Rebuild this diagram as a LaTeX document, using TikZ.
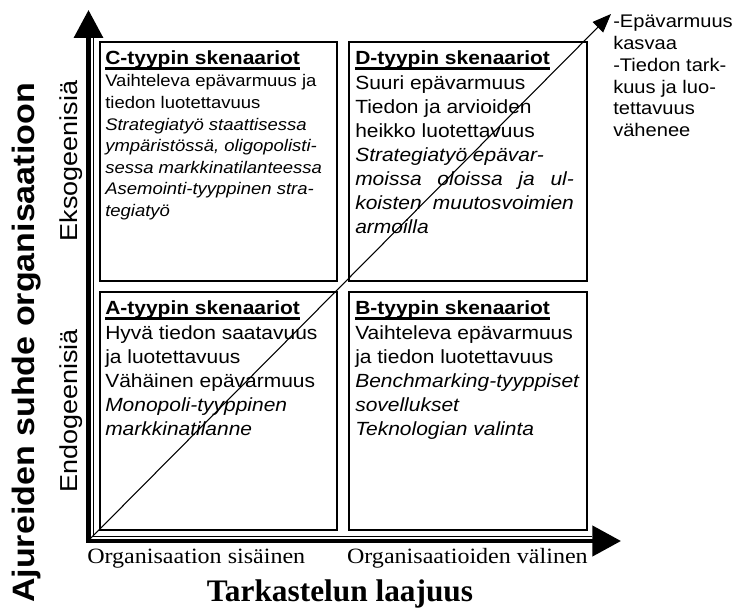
\documentclass[tikz,border=0pt]{standalone}
\usepackage{fontspec}
\setmainfont{Liberation Sans}[FakeStretch=1.1]
\newfontfamily\serifface{Liberation Serif}[FakeStretch=1.1]
\newfontfamily\titleface{Liberation Serif}
\usetikzlibrary{arrows.meta,fit}

% bold heading with a heavy rule just under the baseline
\newcommand\hdunder[1]{\setbox0\hbox{\bfseries #1}\rlap{\rule[-3.4pt]{\wd0}{1.8pt}}\box0}
% stack of left-aligned lines whose baseline is the first line
\newcommand\linesblock[1]{\begin{tabular}[t]{@{}l@{}}#1\end{tabular}}

\begin{document}
\begin{tikzpicture}[x=0.75pt,y=-0.75pt,
  qbox/.style={draw, line width=1.3pt, inner sep=0pt},
  headtext/.style={inner sep=0pt, anchor=base west, font=\fontsize{14.3}{18.1}\selectfont},
  bodytext/.style={inner sep=0pt, anchor=base west, font=\fontsize{14.3}{18.1}\selectfont},
  smallbody/.style={inner sep=0pt, anchor=base west, font=\fontsize{12.6}{16.2}\selectfont},
  notetext/.style={inner sep=0pt, anchor=base west, font=\fontsize{13.7}{16.3}\selectfont},
  axislabel/.style={inner sep=0pt, font=\serifface\fontsize{16.4}{20}\selectfont},
  axistitle/.style={inner sep=0pt, anchor=base, font=\titleface\bfseries\fontsize{23.5}{28}\selectfont},
  sidetitle/.style={inner sep=0pt, anchor=base, rotate=90, font=\bfseries\fontsize{23.2}{28}\selectfont},
  sidelabel/.style={inner sep=0pt, anchor=base, rotate=90, font=\fontsize{18.4}{22}\selectfont},
  axisline/.style={line width=3.3pt, line join=miter,
    {Triangle[length=21pt,width=21.5pt]}-{Triangle[length=21.5pt,width=22.5pt]}},
  axisshade/.style={line width=0.6pt},
  diag/.style={line width=0.8pt, -{Triangle[length=14pt,width=11pt]}}
]
\useasboundingbox (0,0) rectangle (746,609);

% the four scenario quadrants
\node[qbox, fit={(100,42) (337,281)}] (boxC) {};
\node[qbox, fit={(349,42) (587,281)}] (boxD) {};
\node[qbox, fit={(100,292) (337,530)}] (boxA) {};
\node[qbox, fit={(349,292) (587,530)}] (boxB) {};

% axes
\coordinate (origin) at (88.5,541);
\coordinate (ytop) at (88.5,10);
\coordinate (xend) at (621,541);
\coordinate (innery) at (93.5,38);
\coordinate (innercorner) at (93.5,536.5);
\coordinate (innerx) at (592,536.5);
\draw[axisline] (ytop) -- (origin) -- (xend);
\draw[axisshade] (innery) -- (innercorner) -- (innerx);

% diagonal trend arrow
\coordinate (dstart) at (90,539);
\coordinate (dend) at (611,14);
\draw[diag] (dstart) -- (dend);

% C quadrant
\node[headtext] (headC) at (105,65) {\hdunder{C-tyypin skenaariot}};
\node[smallbody] (textC) at (105,87) {\linesblock{Vaihteleva epävarmuus ja\\
  tiedon luotettavuus\\
  \textit{Strategiatyö staattisessa}\\
  \textit{ympäristössä, oligopolisti-}\\
  \textit{sessa markkinatilanteessa}\\
  \textit{Asemointi-tyyppinen stra-}\\
  \textit{tegiatyö}}};

% D quadrant
\node[bodytext] (textD) at (355,65) {\linesblock{\hdunder{D-tyypin skenaariot}\\
  Suuri epävarmuus\\
  Tiedon ja arvioiden\\
  heikko luotettavuus\\
  \textit{Strategiatyö epävar-}\\
  \textit{\makebox[164pt][s]{moissa oloissa ja ul-}}\\
  \textit{\makebox[164pt][s]{koisten muutosvoimien}}\\
  \textit{armoilla}}};

% A quadrant
\node[bodytext] (textA) at (105,315) {\linesblock{\hdunder{A-tyypin skenaariot}\\
  Hyvä tiedon saatavuus\\
  ja luotettavuus\\
  Vähäinen epävarmuus\\
  \textit{Monopoli-tyyppinen}\\
  \textit{markkinatilanne}}};

% B quadrant
\node[bodytext] (textB) at (355,315) {\linesblock{\hdunder{B-tyypin skenaariot}\\
  Vaihteleva epävarmuus\\
  ja tiedon luotettavuus\\
  \textit{Benchmarking-tyyppiset}\\
  \textit{sovellukset}\\
  \textit{Teknologian valinta}}};

% note at the head of the diagonal
\node[notetext] (note) at (613,28) {\linesblock{-Epävarmuus\\
  kasvaa\\
  -Tiedon tark-\\
  kuus ja luo-\\
  tettavuus\\
  vähenee}};

% horizontal axis labels
\node[axislabel, anchor=base west] (xlow) at (87,563) {Organisaation sisäinen};
\node[axislabel, anchor=base east] (xhigh) at (588,563) {Organisaatioiden välinen};
\node[axistitle] (xtitle) at (340,601) {Tarkastelun laajuus};

% vertical axis labels
\node[sidetitle] (ytitle) at (34,343) {Ajureiden suhde organisaatioon};
\node[sidelabel] (yhigh) at (77,161) {Eksogeenisiä};
\node[sidelabel] (ylow) at (77,411) {Endogeenisiä};
\end{tikzpicture}
\end{document}
